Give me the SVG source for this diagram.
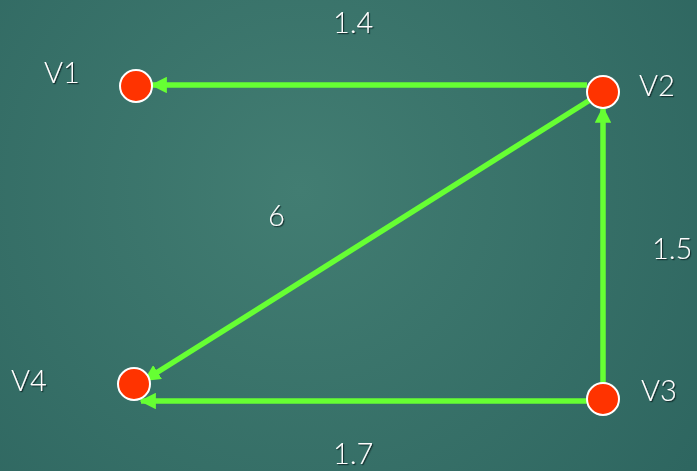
<svg xmlns="http://www.w3.org/2000/svg" width="697" height="471" viewBox="0 0 697 471">
<defs>
<radialGradient id="bg" cx="300" cy="190" r="480" gradientUnits="userSpaceOnUse">
<stop offset="0" stop-color="#427d72"/>
<stop offset="1" stop-color="#2e6660"/>
</radialGradient>
<marker id="arr" viewBox="0 0 10 10" refX="9" refY="5" markerWidth="3" markerHeight="3" orient="auto" markerUnits="strokeWidth">
<path d="M0,0 L10,5 L0,10 z" fill="#66ff33"/>
</marker>
<filter id="sh" x="-20%" y="-20%" width="150%" height="150%">
<feDropShadow dx="1.2" dy="1.2" stdDeviation="0.6" flood-color="#0c2a26" flood-opacity="0.9"/>
</filter>
</defs>
<style>
.edge{stroke:#66ff33;stroke-width:5.5;fill:none;marker-end:url(#arr)}
.node{fill:#ff3300;stroke:#ffffff;stroke-width:2}
text{font-family:"Lato","Liberation Sans",sans-serif;font-size:29px;font-weight:300;fill:#ffffff;filter:url(#sh)}
</style>
<rect width="697" height="471" fill="url(#bg)"/>
<g id="connectors">
<line class="edge" x1="587" y1="85" x2="152" y2="85"/>
<line class="edge" x1="603" y1="384" x2="603" y2="108"/>
<line class="edge" x1="588" y1="401" x2="141" y2="401"/>
<line class="edge" x1="590" y1="100" x2="145" y2="380"/>
</g>
<g id="V1"><circle class="node" cx="136" cy="86" r="16"/><text x="44" y="83">V1</text></g>
<g id="V2"><circle class="node" cx="603" cy="92" r="16"/><text x="639" y="96">V2</text></g>
<g id="V3"><circle class="node" cx="603" cy="399" r="16"/><text x="641" y="401">V3</text></g>
<g id="V4"><circle class="node" cx="134" cy="384" r="16"/><text x="11" y="391">V4</text></g>
<g id="labels">
<text x="333" y="33">1.4</text>
<text x="268" y="226">6</text>
<text x="652" y="259">1.5</text>
<text x="333" y="464">1.7</text>
</g>
</svg>
